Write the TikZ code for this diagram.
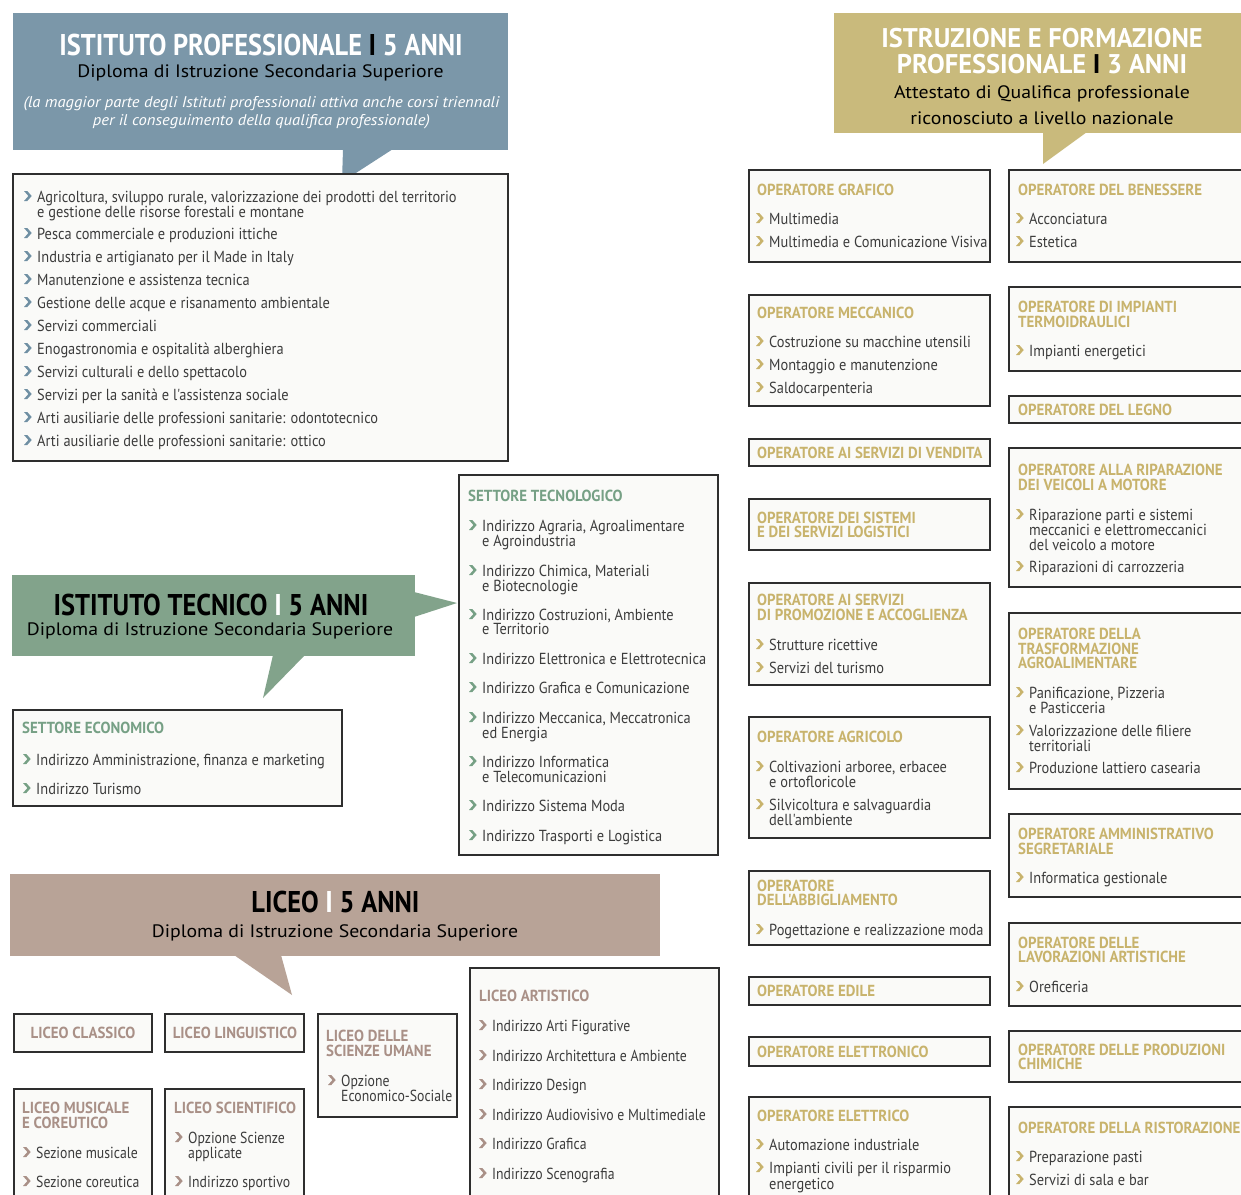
\documentclass[tikz,border=0pt]{standalone}
\usepackage{fontspec}
\setmainfont{PT Sans}
\newfontfamily\fitm{PT Sans}[FakeStretch=0.9]
\newfontfamily\fitmL{PT Sans}[FakeStretch=0.86]
\newfontfamily\fttl{PT Sans}[FakeStretch=0.93]
\newfontfamily\fhdr{PT Sans}[FakeStretch=0.88]
\newfontfamily\fhdrI{PT Sans}[FakeStretch=0.98]
\newfontfamily\fsub{PT Sans}[FakeStretch=1.1]
\newfontfamily\fnote{PT Sans}[FakeStretch=1.07]
\definecolor{cP}{HTML}{7B97A9}
\definecolor{cT}{HTML}{82A38B}
\definecolor{cL}{HTML}{B8A397}
\definecolor{cI}{HTML}{C9BA7C}
\definecolor{kP}{HTML}{6F8FA3}
\definecolor{kT}{HTML}{76A085}
\definecolor{kL}{HTML}{A99087}
\definecolor{kI}{HTML}{C8B36C}
\definecolor{txt}{HTML}{3C3C3C}
\definecolor{bfill}{HTML}{FAFAF8}
\definecolor{bdraw}{HTML}{2E2E2E}
\tikzset{
 box/.style={draw=bdraw, fill=bfill, line width=1.1pt, inner sep=0, outer sep=0, anchor=north west},
 hdr/.style={inner sep=0, outer sep=0, anchor=north west},
 itm/.style={anchor=base west, inner sep=0, text=txt, font=\fitm\fontsize{16}{15}\selectfont},
 ttl/.style={anchor=base west, inner sep=0, font=\fttl\bfseries\fontsize{16}{15}\selectfont},
 htitle/.style={anchor=base, inner sep=0, font=\fhdr\bfseries\fontsize{30}{30}\selectfont},
 htitleI/.style={anchor=base, inner sep=0, text=white, font=\fhdrI\bfseries\fontsize{27}{27}\selectfont},
 hsub/.style={anchor=base, inner sep=0, text=black, font=\fsub\fontsize{18}{18}\selectfont},
 hnote/.style={anchor=base, inner sep=0, text=white, font=\fnote\itshape\fontsize{15.5}{15}\selectfont},
 chev/.pic={\fill (0,-1) -- (3.3,-1) -- (7.7,-6) -- (3.3,-11) -- (0,-11) -- (4.4,-6) -- cycle;}
}
\newcounter{nn}
\newcommand\bx[5]{\node[box, minimum width={#4-#2}, minimum height={#5-#3}] (#1) at (#2,#3) {};}
\newcommand\hd[6]{\node[hdr, fill=#6, minimum width={#4-#2}, minimum height={#5-#3}] (#1) at (#2,#3) {};}
\newcommand\T[4]{\stepcounter{nn}\node[ttl, text=#3] (t\thenn) at (#1,#2) {#4};}
\newcommand\I[4]{\stepcounter{nn}\pic[#3] at ({#1-13},#2) {chev};\node[itm] (t\thenn) at (#1,#2) {#4};}
\newcommand\C[3]{\stepcounter{nn}\node[itm] (t\thenn) at (#1,#2) {#3};}
\begin{document}
\begin{tikzpicture}[x=1pt,y=-1pt]
\path[use as bounding box] (0,0) rectangle (1241,1194);
\clip (0,0) rectangle (1241,1194);
\fill[white] (0,0) rectangle (1241,1194);
% ---------- Istituto professionale ----------
\hd{hP}{13}{13}{508}{150}{cP}
\fill[cP] (343,149) -- (393,149) -- (342,182) -- cycle;
\node[htitle, text=white] (hPt) at (261,55) {ISTITUTO PROFESSIONALE \textcolor{black}{I} 5 ANNI};
\node[hsub] (hPs) at (260.5,77) {Diploma di Istruzione Secondaria Superiore};
\node[hnote] (hPn1) at (261.5,107) {(la maggior parte degli Istituti professionali attiva anche corsi triennali};
\node[hnote] (hPn2) at (261.5,125) {per il conseguimento della qualifica professionale)};
\bx{bP}{13}{174}{508}{461}
\I{37}{202}{kP}{Agricoltura, sviluppo rurale, valorizzazione dei prodotti del territorio}
\C{37}{217}{e gestione delle risorse forestali e montane}
\I{37}{239}{kP}{Pesca commerciale e produzioni ittiche}
\I{37}{262}{kP}{Industria e artigianato per il Made in Italy}
\I{37}{285}{kP}{Manutenzione e assistenza tecnica}
\I{37}{308}{kP}{Gestione delle acque e risanamento ambientale}
\I{37}{331}{kP}{Servizi commerciali}
\I{37}{354}{kP}{Enogastronomia e ospitalità alberghiera}
\I{37}{377}{kP}{Servizi culturali e dello spettacolo}
\I{37}{400}{kP}{Servizi per la sanità e l'assistenza sociale}
\I{37}{423}{kP}{Arti ausiliarie delle professioni sanitarie: odontotecnico}
\I{37}{446}{kP}{Arti ausiliarie delle professioni sanitarie: ottico}
% ---------- Istituto tecnico ----------
\hd{hT}{12}{575}{415}{656}{cT}
\fill[cT] (414,592) -- (457,603) -- (414,617) -- cycle;
\fill[cT] (273,655) -- (305,655) -- (263,698) -- cycle;
\node[htitle, text=black] (hTt) at (211,615) {ISTITUTO TECNICO \textcolor{white}{I} 5 ANNI};
\node[hsub] (hTs) at (210,635) {Diploma di Istruzione Secondaria Superiore};
\bx{bTe}{13}{710}{342}{806}
\T{22}{733}{kT}{SETTORE ECONOMICO}
\I{36}{765}{kT}{Indirizzo Amministrazione, finanza e marketing}
\I{36}{794}{kT}{Indirizzo Turismo}
\bx{bTt}{459}{475}{718}{855}
\T{468}{501}{kT}{SETTORE TECNOLOGICO}
\I{482}{531}{kT}{Indirizzo Agraria, Agroalimentare} \C{482}{546}{e Agroindustria}
\I{482}{576}{kT}{Indirizzo Chimica, Materiali} \C{482}{591}{e Biotecnologie}
\I{482}{620}{kT}{Indirizzo Costruzioni, Ambiente} \C{482}{634}{e Territorio}
\I{482}{664}{kT}{Indirizzo Elettronica e Elettrotecnica}
\I{482}{693}{kT}{Indirizzo Grafica e Comunicazione}
\I{482}{723}{kT}{Indirizzo Meccanica, Meccatronica} \C{482}{738}{ed Energia}
\I{482}{767}{kT}{Indirizzo Informatica} \C{482}{782}{e Telecomunicazioni}
\I{482}{811}{kT}{Indirizzo Sistema Moda}
\I{482}{841}{kT}{Indirizzo Trasporti e Logistica}
% ---------- Liceo ----------
\hd{hL}{10}{874}{660}{956}{cL}
\fill[cL] (234,955) -- (281,955) -- (292,995) -- cycle;
\node[htitle, text=black] (hLt) at (335.5,912) {LICEO \textcolor{white}{I} 5 ANNI};
\node[hsub] (hLs) at (335,937) {Diploma di Istruzione Secondaria Superiore};
\begin{scope}[itm/.append style={font=\fitmL\fontsize{16}{15}\selectfont}]
\bx{bLc}{14}{1014}{152}{1052}
\node[ttl, anchor=base, text=kL] (tLc) at (83,1038) {LICEO CLASSICO};
\bx{bLl}{165}{1014}{304}{1052}
\node[ttl, anchor=base, text=kL] (tLl) at (235,1038) {LICEO LINGUISTICO};
\bx{bLu}{318}{1014}{457}{1117}
\T{326}{1041}{kL}{LICEO DELLE} \T{326}{1056}{kL}{SCIENZE UMANE}
\I{341}{1086}{kL}{Opzione} \C{341}{1101}{Economico-Sociale}
\bx{bLa}{470}{968}{719}{1210}
\T{479}{1001}{kL}{LICEO ARTISTICO}
\I{492}{1031}{kL}{Indirizzo Arti Figurative}
\I{492}{1061}{kL}{Indirizzo Architettura e Ambiente}
\I{492}{1090}{kL}{Indirizzo Design}
\I{492}{1120}{kL}{Indirizzo Audiovisivo e Multimediale}
\I{492}{1149}{kL}{Indirizzo Grafica}
\I{492}{1179}{kL}{Indirizzo Scenografia}
\bx{bLm}{14}{1089}{152}{1210}
\T{22}{1113}{kL}{LICEO MUSICALE} \T{22}{1128}{kL}{E COREUTICO}
\I{36}{1158}{kL}{Sezione musicale}
\I{36}{1187}{kL}{Sezione coreutica}
\bx{bLs}{165}{1089}{304}{1210}
\T{174}{1113}{kL}{LICEO SCIENTIFICO}
\I{188}{1143}{kL}{Opzione Scienze} \C{188}{1158}{applicate}
\I{188}{1187}{kL}{Indirizzo sportivo}
\end{scope}
% ---------- IeFP ----------
\hd{hI}{834}{13}{1250}{133}{cI}
\fill[cI] (1043,132) -- (1087,132) -- (1043,164) -- cycle;
\node[htitleI] (hIt1) at (1042,47) {ISTRUZIONE E FORMAZIONE};
\node[htitleI] (hIt2) at (1042,73) {PROFESSIONALE \textcolor{black}{I} 3 ANNI};
\node[hsub] (hIs1) at (1042,98) {Attestato di Qualifica professionale};
\node[hsub] (hIs2) at (1042,124) {riconosciuto a livello nazionale};
% left column
\bx{bI1}{749}{170}{990}{262}
\T{757}{195}{kI}{OPERATORE GRAFICO}
\I{769}{224}{kI}{Multimedia}
\I{769}{247}{kI}{Multimedia e Comunicazione Visiva}
\bx{bI2}{749}{295}{990}{406}
\T{757}{318}{kI}{OPERATORE MECCANICO}
\I{769}{347}{kI}{Costruzione su macchine utensili}
\I{769}{370}{kI}{Montaggio e manutenzione}
\I{769}{393}{kI}{Saldocarpenteria}
\bx{bI3}{749}{439}{990}{466}
\T{757}{458}{kI}{OPERATORE AI SERVIZI DI VENDITA}
\bx{bI4}{749}{499}{990}{550}
\T{757}{523}{kI}{OPERATORE DEI SISTEMI} \T{757}{537}{kI}{E DEI SERVIZI LOGISTICI}
\bx{bI5}{749}{583}{990}{685}
\T{757}{605}{kI}{OPERATORE AI SERVIZI} \T{757}{620}{kI}{DI PROMOZIONE E ACCOGLIENZA}
\I{769}{650}{kI}{Strutture ricettive}
\I{769}{673}{kI}{Servizi del turismo}
\bx{bI6}{749}{717}{990}{838}
\T{757}{742}{kI}{OPERATORE AGRICOLO}
\I{769}{772}{kI}{Coltivazioni arboree, erbacee} \C{769}{787}{e ortofloricole}
\I{769}{810}{kI}{Silvicoltura e salvaguardia} \C{769}{825}{dell'ambiente}
\bx{bI7}{749}{871}{990}{945}
\T{757}{891}{kI}{OPERATORE} \T{757}{905}{kI}{DELL'ABBIGLIAMENTO}
\I{769}{935}{kI}{Pogettazione e realizzazione moda}
\bx{bI8}{749}{977}{990}{1005}
\T{757}{996}{kI}{OPERATORE EDILE}
\bx{bI9}{749}{1037}{990}{1066}
\T{757}{1057}{kI}{OPERATORE ELETTRONICO}
\bx{bI10}{749}{1097}{990}{1210}
\T{757}{1121}{kI}{OPERATORE ELETTRICO}
\I{769}{1150}{kI}{Automazione industriale}
\I{769}{1173}{kI}{Impianti civili per il risparmio} \C{769}{1189}{energetico}
% right column
\bx{bJ1}{1009}{170}{1250}{262}
\T{1018}{195}{kI}{OPERATORE DEL BENESSERE}
\I{1029}{224}{kI}{Acconciatura}
\I{1029}{247}{kI}{Estetica}
\bx{bJ2}{1009}{287}{1250}{371}
\T{1018}{312}{kI}{OPERATORE DI IMPIANTI} \T{1018}{327}{kI}{TERMOIDRAULICI}
\I{1029}{356}{kI}{Impianti energetici}
\bx{bJ3}{1009}{396}{1250}{423}
\T{1018}{415}{kI}{OPERATORE DEL LEGNO}
\bx{bJ4}{1009}{448}{1250}{587}
\T{1018}{475}{kI}{OPERATORE ALLA RIPARAZIONE} \T{1018}{490}{kI}{DEI VEICOLI A MOTORE}
\I{1029}{520}{kI}{Riparazione parti e sistemi} \C{1029}{535}{meccanici e elettromeccanici} \C{1029}{550}{del veicolo a motore}
\I{1029}{572}{kI}{Riparazioni di carrozzeria}
\bx{bJ5}{1009}{613}{1250}{789}
\T{1018}{639}{kI}{OPERATORE DELLA} \T{1018}{654}{kI}{TRASFORMAZIONE} \T{1018}{668}{kI}{AGROALIMENTARE}
\I{1029}{698}{kI}{Panificazione, Pizzeria} \C{1029}{713}{e Pasticceria}
\I{1029}{736}{kI}{Valorizzazione delle filiere} \C{1029}{751}{territoriali}
\I{1029}{773}{kI}{Produzione lattiero casearia}
\bx{bJ6}{1009}{814}{1250}{897}
\T{1018}{839}{kI}{OPERATORE AMMINISTRATIVO} \T{1018}{854}{kI}{SEGRETARIALE}
\I{1029}{883}{kI}{Informatica gestionale}
\bx{bJ7}{1009}{923}{1250}{1006}
\T{1018}{948}{kI}{OPERATORE DELLE} \T{1018}{962}{kI}{LAVORAZIONI ARTISTICHE}
\I{1029}{992}{kI}{Oreficeria}
\bx{bJ8}{1009}{1031}{1250}{1082}
\T{1018}{1055}{kI}{OPERATORE DELLE PRODUZIONI} \T{1018}{1069}{kI}{CHIMICHE}
\bx{bJ9}{1009}{1107}{1250}{1210}
\T{1018}{1133}{kI}{OPERATORE DELLA RISTORAZIONE}
\I{1029}{1162}{kI}{Preparazione pasti}
\I{1029}{1185}{kI}{Servizi di sala e bar}
\end{tikzpicture}
\end{document}
